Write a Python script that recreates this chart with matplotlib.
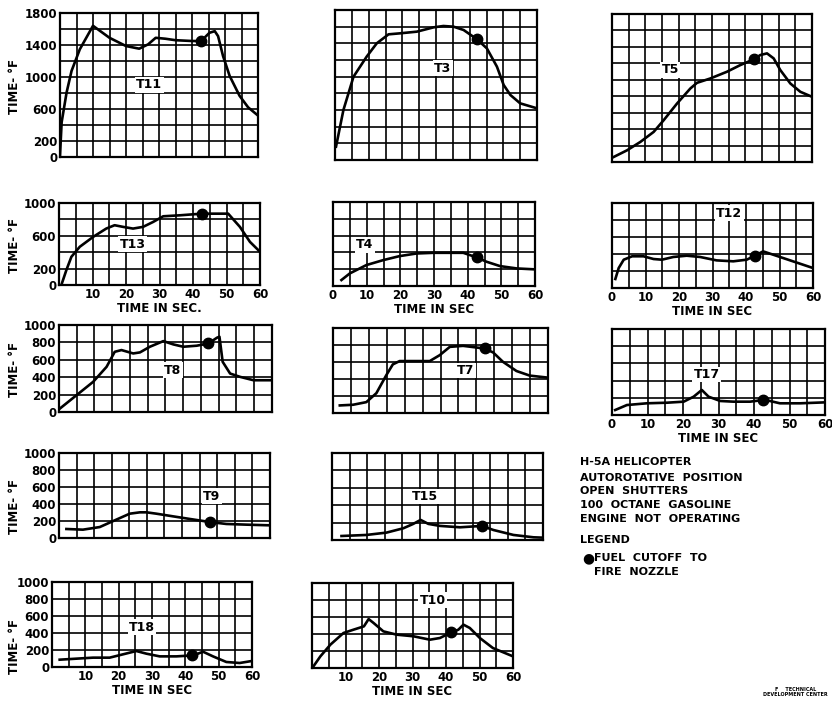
import matplotlib
matplotlib.use("Agg")
import matplotlib.pyplot as plt
import numpy as np

plt.rcParams['font.family'] = ['DejaVu Sans']
plt.rcParams['font.weight'] = 'bold'

# ---- data (time in sec, temperature in deg F) ----
t11_t = [0, 0.5, 2, 3.5, 6, 10, 15, 20, 24, 26.7, 29, 32, 35, 40, 42.8, 45.3, 46.9, 47.9, 49.4, 51.4, 54.4, 57, 60]
t11_v = [20, 435, 807, 1076, 1346, 1640, 1490, 1387, 1354, 1408, 1490, 1478, 1460, 1450, 1450, 1553, 1573, 1511, 1263, 1014, 766, 621, 518]
t11_cut = (42.8, 1450)

t3_t = [0.3, 2.5, 5.5, 9.4, 12.4, 15.9, 19.3, 24.3, 29.3, 32.2, 35.2, 38.2, 42.2, 45.1, 48.1, 50.1, 52.1, 55, 60]
t3_v = [160, 600, 1000, 1240, 1400, 1508, 1520, 1540, 1592, 1608, 1600, 1560, 1448, 1340, 1120, 900, 780, 680, 620]
t3_cut = (42.2, 1448)

t5_t = [0.5, 4.5, 8.5, 12.5, 15.5, 19.5, 23.5, 25.5, 29.5, 34.5, 38.5, 42.5, 44.5, 46.5, 48.5, 50.5, 53.5, 56.5, 60]
t5_v = [61, 142, 244, 366, 508, 711, 894, 963, 1016, 1098, 1179, 1248, 1301, 1321, 1260, 1118, 955, 854, 793]
t5_cut = (42.5, 1248)

t13_t = [0.7, 2.2, 3.7, 6.2, 10.2, 14.1, 16.6, 19.1, 22.1, 25.1, 28.1, 31.1, 36.1, 42.6, 47, 50.5, 54, 57, 60]
t13_v = [0, 182, 344, 466, 587, 688, 729, 709, 688, 709, 769, 838, 850, 870, 870, 870, 709, 526, 405]
t13_cut = (42.6, 870)

t4_t = [2.5, 5, 9.9, 14.9, 19.8, 24.8, 29.8, 34.7, 38.7, 42.7, 45.6, 49.6, 54.6, 60]
t4_v = [71, 150, 249, 308, 356, 387, 395, 395, 395, 340, 289, 237, 209, 198]
t4_cut = (42.7, 340)

t12_t = [1, 2, 3.5, 6, 9.4, 12.4, 14.9, 18.3, 22.3, 26.3, 31.2, 36.2, 40.2, 42.7, 45.1, 48.1, 54, 60]
t12_v = [106, 235, 333, 373, 373, 341, 333, 365, 380, 365, 325, 314, 333, 380, 431, 392, 314, 235]
t12_cut = (42.7, 380)

t8_t = [0.2, 4.9, 9.6, 13.4, 15.7, 17.6, 20.9, 22.8, 25.6, 29.4, 32.2, 35, 38.8, 42.1, 44.5, 45.2, 46.1, 48.2, 51, 54.8, 60]
t8_v = [38, 192, 346, 519, 692, 712, 673, 685, 750, 815, 777, 750, 762, 788, 854, 865, 577, 442, 404, 365, 365]
t8_cut = (42.1, 788)

t7_t = [1.9, 5.6, 9.3, 12.1, 14.9, 16.7, 18.6, 23.3, 27, 29.8, 32.6, 36.3, 42.3, 44.7, 47.4, 51.2, 54.9, 60]
t7_v = [89, 97, 128, 233, 447, 572, 611, 611, 611, 681, 778, 790, 759, 712, 603, 494, 440, 416]
t7_cut = (42.3, 759)

t17_t = [0.9, 4.2, 9.8, 15.5, 20.2, 23, 25.3, 27.2, 30.5, 34.2, 38.9, 42.5, 44.5, 47.3, 53, 60]
t17_v = [58, 116, 136, 143, 155, 213, 291, 213, 163, 155, 155, 174, 163, 136, 136, 147]
t17_cut = (42.5, 174)

t9_t = [2.1, 6.8, 11.6, 16.3, 20.1, 23, 24.9, 27.7, 32.4, 37.2, 42.9, 47.6, 53.3, 60]
t9_v = [106, 98, 129, 216, 286, 302, 302, 286, 255, 224, 188, 165, 157, 149]
t9_cut = (42.9, 188)

t15_t = [2.7, 9.8, 15.5, 20.3, 23.1, 25.2, 27.4, 30.7, 36.4, 42.6, 45.9, 51.6, 57.3, 60]
t15_v = [46, 58, 85, 135, 185, 231, 185, 162, 146, 162, 115, 58, 31, 27]
t15_cut = (42.6, 162)

t18_t = [2.3, 7.3, 12.3, 17.3, 21.3, 25.3, 28.3, 32.3, 37.3, 42.5, 45.3, 48.3, 52.3, 56.3, 60]
t18_v = [86, 98, 110, 110, 149, 188, 157, 125, 125, 137, 180, 125, 59, 47, 71]
t18_cut = (42.0, 137)

t10_t = [0.3, 2.5, 5.5, 9.4, 12.4, 15.5, 16.9, 18.4, 21.3, 25.3, 30.3, 35.2, 38.2, 41.2, 43.7, 45.2, 47.1, 50.1, 54, 60]
t10_v = [12, 137, 275, 412, 451, 490, 576, 529, 431, 392, 373, 333, 353, 412, 451, 510, 471, 353, 235, 137]
t10_cut = (41.5, 420)

W, H = 832, 704
fig = plt.figure(figsize=(W / 100, H / 100), dpi=100)
fig.patch.set_facecolor('white')


def panel(box, t, v, cut, name, name_at, ymax=1000, ylabels=None,
          xlabels=None, xtitle=None):
    left, top, right, bottom = box
    ax = fig.add_axes([left / W, 1 - bottom / H, (right - left) / W, (bottom - top) / H])
    ax.set_xlim(0, 60)
    ax.set_ylim(0, ymax)
    xt = np.arange(0, 61, 5)
    yt = np.arange(0, ymax + 1, 200)
    ax.set_xticks(xt)
    ax.set_yticks(yt)
    if xlabels:
        ax.set_xticklabels([str(x) if x in xlabels else '' for x in xt])
    else:
        ax.set_xticklabels([])
    if ylabels:
        ax.set_yticklabels([str(y) if y in ylabels else '' for y in yt])
    else:
        ax.set_yticklabels([])
    ax.tick_params(length=0, labelsize=8.5, pad=2)
    for lab in ax.get_xticklabels() + ax.get_yticklabels():
        lab.set_fontweight('bold')
    ax.grid(True, color='black', linewidth=1.2)
    for s in ax.spines.values():
        s.set_linewidth(1.6)
    ax.plot(t, v, color='black', linewidth=1.9, zorder=3)
    ax.plot([cut[0]], [cut[1]], 'o', color='black', markersize=7.5, zorder=4)
    ax.text(name_at[0], name_at[1], name, fontsize=9, fontweight='bold',
            ha='center', va='center', zorder=5,
            bbox=dict(facecolor='white', edgecolor='none', pad=1.0))
    if xtitle:
        ax.set_xlabel(xtitle, fontsize=8.5, fontweight='bold', labelpad=1)
    return ax


panel((60, 13, 258, 157), t11_t, t11_v, t11_cut, 'T11', (27, 900), ymax=1800,
      ylabels=[0, 200, 600, 1000, 1400, 1800])
panel((335, 10, 537, 160), t3_t, t3_v, t3_cut, 'T3', (32, 1100), ymax=1800)
panel((612, 14, 812, 162), t5_t, t5_v, t5_cut, 'T5', (17.5, 1120), ymax=1800)

panel((59, 203, 260, 285), t13_t, t13_v, t13_cut, 'T13', (22, 500),
      ylabels=[0, 200, 600, 1000], xlabels=[10, 20, 30, 40, 50, 60], xtitle='TIME IN SEC.')
panel((333, 202, 535, 286), t4_t, t4_v, t4_cut, 'T4', (9.5, 490),
      xlabels=[0, 10, 20, 30, 40, 50, 60], xtitle='TIME IN SEC')
panel((612, 203, 813, 288), t12_t, t12_v, t12_cut, 'T12', (35, 880),
      xlabels=[0, 10, 20, 30, 40, 50, 60], xtitle='TIME IN SEC')

panel((59, 325, 272, 412), t8_t, t8_v, t8_cut, 'T8', (32, 480),
      ylabels=[0, 200, 400, 600, 800, 1000])
panel((333, 328, 548, 413), t7_t, t7_v, t7_cut, 'T7', (37, 500))
panel((612, 329, 825, 415), t17_t, t17_v, t17_cut, 'T17', (26.7, 470),
      xlabels=[0, 10, 20, 30, 40, 50, 60], xtitle='TIME IN SEC')

panel((59, 453, 270, 538), t9_t, t9_v, t9_cut, 'T9', (43.4, 490),
      ylabels=[0, 200, 400, 600, 800, 1000])
panel((332, 453, 543, 540), t15_t, t15_v, t15_cut, 'T15', (26.4, 500))

panel((52, 582, 252, 667), t18_t, t18_v, t18_cut, 'T18', (27, 470),
      ylabels=[0, 200, 400, 600, 800, 1000], xlabels=[10, 20, 30, 40, 50, 60],
      xtitle='TIME IN SEC')
panel((312, 583, 513, 668), t10_t, t10_v, t10_cut, 'T10', (36, 800),
      xlabels=[10, 20, 30, 40, 50, 60], xtitle='TIME IN SEC')

# rotated y titles of the left column
for yc in [87, 246, 370, 507, 647]:
    fig.text(14 / W, 1 - yc / H, 'TIME- °F', rotation=90, ha='center', va='center',
             fontsize=8.5, fontweight='bold')

# notes and legend
notes = ['H-5A HELICOPTER', 'AUTOROTATIVE  POSITION', 'OPEN  SHUTTERS',
         '100  OCTANE  GASOLINE', 'ENGINE  NOT  OPERATING']
note_y = [462, 478, 491, 505, 519]
for s, yy in zip(notes, note_y):
    fig.text(580 / W, 1 - yy / H, s, fontsize=8, fontweight='bold', va='center')
fig.text(580 / W, 1 - 540 / H, 'LEGEND', fontsize=8, fontweight='bold', va='center')
fig.text(582 / W, 1 - 558 / H, '●', fontsize=10, va='center')
fig.text(594 / W, 1 - 558 / H, 'FUEL  CUTOFF  TO', fontsize=8, fontweight='bold', va='center')
fig.text(594 / W, 1 - 572 / H, 'FIRE  NOZZLE', fontsize=8, fontweight='bold', va='center')

fig.text(828 / W, 1 - 692 / H, 'F    TECHNICAL\nDEVELOPMENT CENTER', fontsize=3.5,
         ha='right', va='center', multialignment='center')

fig.savefig('out.png', dpi=100, facecolor='white')
